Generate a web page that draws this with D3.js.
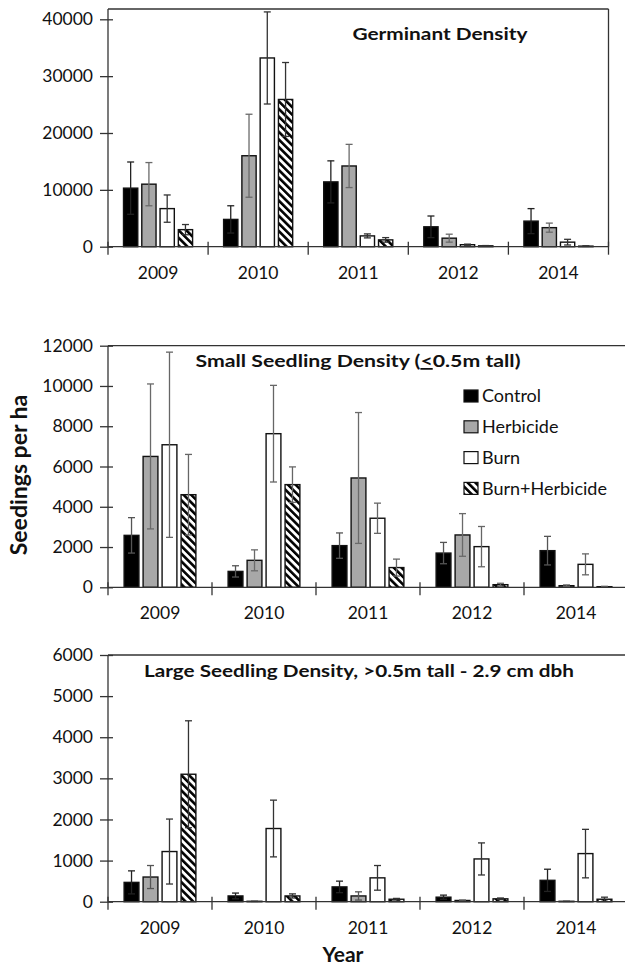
<!DOCTYPE html>
<html>
<head>
<meta charset="utf-8">
<script src="https://cdn.jsdelivr.net/npm/d3@7"></script>
<style>
    html, body { margin: 0; padding: 0; background: #fff; }
    svg { display: block; font-family: Lato, 'Open Sans', sans-serif; }
</style>
</head>
<body>
<svg id="chart" width="625" height="967"></svg>
<script>
const years = ['2009', '2010', '2011', '2012', '2014'];
const series = ['Control', 'Herbicide', 'Burn', 'Burn+Herbicide'];

// germinant density, per series, per year
const germControl = [10300, 4800, 11400, 3500, 4500];
const germHerbicide = [11000, 16000, 14200, 1500, 3350];
const germBurn = [6700, 33200, 1900, 350, 800];
const germBurnHerb = [3000, 25900, 1200, 150, 100];
const germControlErr = [4600, 2400, 3700, 1900, 2200];
const germHerbicideErr = [3800, 7300, 3800, 700, 800];
const germBurnErr = [2400, 8100, 350, 100, 500];
const germBurnHerbErr = [900, 6500, 400, 50, 50];

// small seedling density
const smallControl = [2580, 790, 2070, 1700, 1820];
const smallHerbicide = [6500, 1340, 5430, 2600, 80];
const smallBurn = [7080, 7630, 3430, 2020, 1140];
const smallBurnHerb = [4600, 5100, 980, 130, 30];
const smallControlErr = [880, 280, 630, 530, 710];
const smallHerbicideErr = [3600, 520, 3250, 1060, 40];
const smallBurnErr = [4600, 2400, 750, 1000, 520];
const smallBurnHerbErr = [2000, 880, 420, 70, 20];

// large seedling density
const largeControl = [470, 140, 360, 110, 520];
const largeHerbicide = [600, 10, 140, 30, 10];
const largeBurn = [1220, 1780, 580, 1040, 1170];
const largeBurnHerb = [3100, 140, 60, 70, 60];
const largeControlErr = [280, 70, 140, 50, 270];
const largeHerbicideErr = [280, 5, 100, 10, 5];
const largeBurnErr = [790, 690, 300, 390, 590];
const largeBurnHerbErr = [1300, 50, 20, 20, 50];

const germTicks = [0, 10000, 20000, 30000, 40000];
const smallTicks = [0, 2000, 4000, 6000, 8000, 10000, 12000];
const largeTicks = [0, 1000, 2000, 3000, 4000, 5000, 6000];

const fills = ['#000', '#a8a8a8', '#fff', 'url(#hatch)'];

function rows(means, errs) {
    let out = [];
    years.forEach(function (y, i) {
        series.forEach(function (s, j) {
            out.push({ year: y, series: s, value: means[j][i], err: errs[j][i], idx: j });
        });
    });
    return out;
}

function drawPanel(svg, settings) {
    let g = svg.append('g');
    let x = d3.scaleBand().domain(years).range([settings.left, settings.right]);
    let w = x.bandwidth();
    let inner = d3.scaleBand().domain(series).range([0.155 * w, 0.845 * w]).paddingInner(0.22);
    let y = d3.scaleLinear().domain([0, settings.max]).range([settings.bottom, settings.top]);

    // plot frame
    g.append('line')
        .attr('x1', settings.left).attr('x2', settings.frameRight)
        .attr('y1', settings.frameTop).attr('y2', settings.frameTop)
        .style('stroke', '#333').style('stroke-width', 1.3);
    if (settings.box) {
        g.append('line')
            .attr('x1', settings.right).attr('x2', settings.right)
            .attr('y1', settings.frameTop).attr('y2', settings.bottom)
            .style('stroke', '#333').style('stroke-width', 1.3);
    }

    let data = rows(settings.means, settings.errs);

    g.selectAll('.bar')
        .data(data).enter().append('rect')
        .attr('class', 'bar')
        .attr('x', function (d) { return x(d.year) + inner(d.series); })
        .attr('width', inner.bandwidth())
        .attr('y', function (d) { return y(d.value); })
        .attr('height', function (d) { return y(0) - y(d.value); })
        .attr('fill', function (d) { return fills[d.idx]; })
        .style('stroke', '#111')
        .style('stroke-width', 1.4);

    let eb = g.selectAll('.err')
        .data(data).enter().append('g')
        .attr('class', 'err')
        .attr('transform', function (d) { return 'translate(' + (x(d.year) + inner(d.series) + inner.bandwidth() / 2) + ',0)'; })
        .style('stroke', function (d) { return settings.errColors[d.idx]; })
        .style('stroke-width', 1.3);
    eb.append('line')
        .attr('y1', function (d) { return y(Math.max(0, d.value - d.err)); })
        .attr('y2', function (d) { return y(d.value + d.err); });
    eb.append('line')
        .attr('x1', -3.5).attr('x2', 3.5)
        .attr('y1', function (d) { return y(d.value + d.err); })
        .attr('y2', function (d) { return y(d.value + d.err); });
    eb.append('line')
        .attr('x1', -3.5).attr('x2', 3.5)
        .attr('y1', function (d) { return y(Math.max(0, d.value - d.err)); })
        .attr('y2', function (d) { return y(Math.max(0, d.value - d.err)); });

    // y axis with crossing ticks
    let ya = g.append('g')
        .attr('transform', 'translate(' + settings.left + ',0)')
        .call(d3.axisLeft(y).tickValues(settings.ticks).tickFormat(d3.format('d'))
            .tickSize(8).tickPadding(7).tickSizeOuter(0));
    ya.select('.domain').attr('d', 'M0,' + settings.frameTop + 'V' + settings.bottom)
        .style('stroke', '#333').style('stroke-width', 1.3);
    ya.selectAll('.tick line').attr('x1', 5).style('stroke', '#333').style('stroke-width', 1.3);
    ya.selectAll('.tick text').attr('x', -15)
        .style('font-family', 'Lato, sans-serif').style('font-size', '17.5px').style('fill', '#111');

    // x axis
    g.append('line')
        .attr('x1', settings.left).attr('x2', settings.right)
        .attr('y1', y(0)).attr('y2', y(0))
        .style('stroke', '#333').style('stroke-width', 1.3);
    let bounds = years.map(function (d) { return x(d); }).concat([x(years[years.length - 1]) + w]);
    g.selectAll('.xtick')
        .data(bounds).enter().append('line')
        .attr('class', 'xtick')
        .attr('x1', function (d) { return d; }).attr('x2', function (d) { return d; })
        .attr('y1', y(0) - 5).attr('y2', y(0) + 8)
        .style('stroke', '#333').style('stroke-width', 1.3);
    g.selectAll('.xlabel')
        .data(years).enter().append('text')
        .attr('class', 'xlabel')
        .attr('x', function (d) { return x(d) + w / 2; })
        .attr('y', y(0) + 26)
        .attr('dy', '0.35em')
        .attr('text-anchor', 'middle')
        .style('font-size', '17.5px').style('fill', '#111')
        .text(function (d) { return d; });

    return g;
}

function drawTitle(g, x, y, width, parts) {
    let t = g.append('text')
        .attr('x', x - width / 2).attr('y', y)
        .attr('textLength', width)
        .attr('lengthAdjust', 'spacingAndGlyphs')
        .style('font-weight', 'bold').style('font-size', '17.5px').style('fill', '#111');
    parts.forEach(function (p) {
        let s = t.append('tspan').text(p.text);
        if (p.underline) s.style('text-decoration', 'underline');
    });
}

function drawLegend(svg) {
    let lg = svg.append('g').attr('transform', 'translate(464,396)');
    let item = lg.selectAll('.item')
        .data(series).enter().append('g')
        .attr('transform', function (d, i) { return 'translate(0,' + (i * 30.8) + ')'; });
    item.append('rect')
        .attr('x', 0).attr('y', -6).attr('width', 14).attr('height', 12)
        .attr('fill', function (d, i) { return fills[i]; })
        .style('stroke', '#111').style('stroke-width', 1.2);
    item.append('text')
        .attr('x', 18).attr('dy', '0.35em')
        .style('font-size', '18px').style('fill', '#111')
        .text(function (d) { return d; });
}

const svg = d3.select('#chart');

const defs = svg.append('defs');
const pat = defs.append('pattern')
    .attr('id', 'hatch')
    .attr('patternUnits', 'userSpaceOnUse')
    .attr('width', 5.4).attr('height', 5.4)
    .attr('patternTransform', 'rotate(-45)');
pat.append('rect').attr('width', 5.4).attr('height', 5.4).attr('fill', '#fff');
pat.append('rect').attr('width', 2.6).attr('height', 5.4).attr('fill', '#000');

const g1 = drawPanel(svg, {
    left: 108, right: 608.5, top: 19.3, bottom: 246.7, max: 40000,
    frameTop: 9, frameRight: 608.5, box: true, ticks: germTicks,
    means: [germControl, germHerbicide, germBurn, germBurnHerb],
    errs: [germControlErr, germHerbicideErr, germBurnErr, germBurnHerbErr],
    errColors: ['#222', '#6a6a6a', '#333', '#333']
});
drawTitle(g1, 440, 40, 175, [{ text: 'Germinant  Density' }]);

const g2 = drawPanel(svg, {
    left: 108, right: 628, top: 345.7, bottom: 587.3, max: 12000,
    frameTop: 345.7, frameRight: 625, ticks: smallTicks,
    means: [smallControl, smallHerbicide, smallBurn, smallBurnHerb],
    errs: [smallControlErr, smallHerbicideErr, smallBurnErr, smallBurnHerbErr],
    errColors: ['#555', '#6a6a6a', '#666', '#666']
});
drawTitle(g2, 358, 367, 325, [
    { text: 'Small Seedling Density (' },
    { text: '<', underline: true },
    { text: '0.5m tall)' }
]);
drawLegend(svg);

const g3 = drawPanel(svg, {
    left: 108, right: 628, top: 655, bottom: 901.7, max: 6000,
    frameTop: 655, frameRight: 625, ticks: largeTicks,
    means: [largeControl, largeHerbicide, largeBurn, largeBurnHerb],
    errs: [largeControlErr, largeHerbicideErr, largeBurnErr, largeBurnHerbErr],
    errColors: ['#222', '#555', '#333', '#333']
});
drawTitle(g3, 359, 677, 430, [{ text: 'Large Seedling Density, >0.5m tall - 2.9 cm dbh' }]);

svg.append('text')
    .attr('transform', 'translate(27,475) rotate(-90)')
    .attr('text-anchor', 'middle')
    .style('font-weight', 'bold').style('font-size', '23px').style('fill', '#111')
    .text('Seedings per ha');

svg.append('text')
    .attr('x', 343).attr('y', 955).attr('dy', '0.35em')
    .attr('text-anchor', 'middle')
    .style('font-weight', 'bold').style('font-size', '21px').style('fill', '#111')
    .text('Year');
</script>
</body>
</html>
